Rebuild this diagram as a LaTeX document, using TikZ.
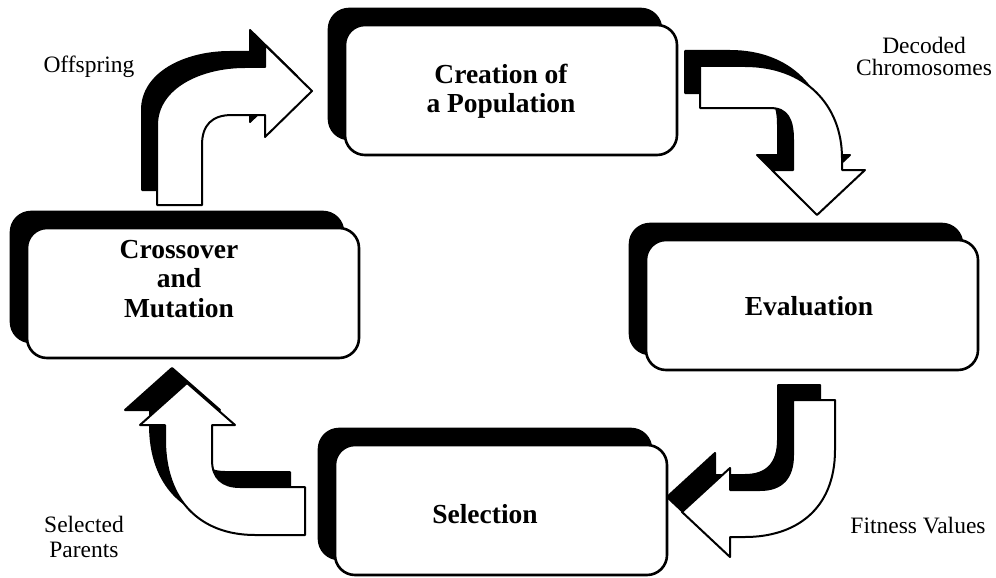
\documentclass[tikz,border=0pt]{standalone}
\usepackage{fontspec}
\setmainfont{Liberation Serif}
% a block arrow: black copy set up and to the left, white face on top
\newcommand{\cyclearrow}[1]{%
  \fill[arrowshade, shift={(-15,-15)}] #1;
  \draw[arrowface] #1;}
\begin{document}
\begin{tikzpicture}[x=1pt, y=-1pt,
  stagebox/.style={draw=black, line width=2.6pt, fill=white, rounded corners=20pt,
    minimum width=332pt, minimum height=130pt, inner sep=0pt},
  stageshade/.style={draw=black, fill=black, line width=2.6pt, rounded corners=20pt,
    minimum width=332pt, minimum height=130pt, inner sep=0pt},
  stagetext/.style={font=\bfseries\fontsize{27.5}{29.5}\selectfont, align=center, inner sep=0pt},
  note/.style={font=\fontsize{23.5}{22}\selectfont, align=center, inner sep=0pt},
  arrowface/.style={draw=black, fill=white, line width=2pt, line join=round},
  arrowshade/.style={draw=black, fill=black, line width=2pt, line join=round},
]
\useasboundingbox (0,0) rectangle (996,578);

% ---- curved block arrows ----
% Offspring: up from Crossover, then right into Creation
\cyclearrow{(157,205) -- (157,125) .. controls (157,88) and (200,67) .. (245,67)
  -- (265,67) -- (265,45) -- (312,91) -- (265,137) -- (265,115) -- (232,115)
  .. controls (212,115) and (202,125) .. (202,145) -- (202,205) -- cycle}
% Decoded chromosomes: right from Creation, then down to Evaluation
\cyclearrow{(700,66) -- (745,66) .. controls (805,66) and (842,105) .. (842,158)
  -- (842,170) -- (865,170) -- (817,215) -- (772,170) -- (793,170) -- (793,140)
  .. controls (793,120) and (788,108) .. (770,108) -- (700,108) -- cycle}
% Fitness values: down from Evaluation, then left into Selection
\cyclearrow{(793,400) -- (835,400) -- (835,450) .. controls (835,510) and (795,537) .. (745,537)
  -- (730,537) -- (730,557) -- (682,512) -- (730,468) -- (730,490) -- (760,490)
  .. controls (782,490) and (793,478) .. (793,455) -- cycle}
% Selected parents: left from Selection, then up to Crossover
\cyclearrow{(305,487) -- (305,535) -- (255,535) .. controls (200,535) and (165,500) .. (165,440)
  -- (165,425) -- (140,425) -- (187,383) -- (235,425) -- (212,425) -- (212,460)
  .. controls (212,478) and (222,487) .. (240,487) -- cycle}

% ---- stage boxes ----
\node[stageshade] (creation-shade) at (495,74) {};
\node[stagebox] (creation) at (511,90) {};
\node[stagetext] (creation-text) at (501,91) {Creation of\\a Population};

\node[stageshade] (crossover-shade) at (177,277) {};
\node[stagebox] (crossover) at (193,293) {};
\node[stagetext] (crossover-text) at (179,279) {Crossover\\and\\Mutation};

\node[stageshade] (evaluation-shade) at (796,289) {};
\node[stagebox] (evaluation) at (812,305) {};
\node[stagetext, anchor=base] (evaluation-text) at (809,315) {Evaluation};

\node[stageshade] (selection-shade) at (485,494) {};
\node[stagebox] (selection) at (501,510) {};
\node[stagetext, anchor=base] (selection-text) at (485,523) {Selection};

% ---- arrow labels ----
\node[note, anchor=base] (offspring) at (89,73) {Offspring};
\node[note] (decoded) at (924,56) {Decoded\\Chromosomes};
\node[note] (selected) at (84,537) {Selected\\[3pt]Parents};
\node[note, anchor=base] (fitness) at (918,533) {Fitness Values};
\end{tikzpicture}
\end{document}
